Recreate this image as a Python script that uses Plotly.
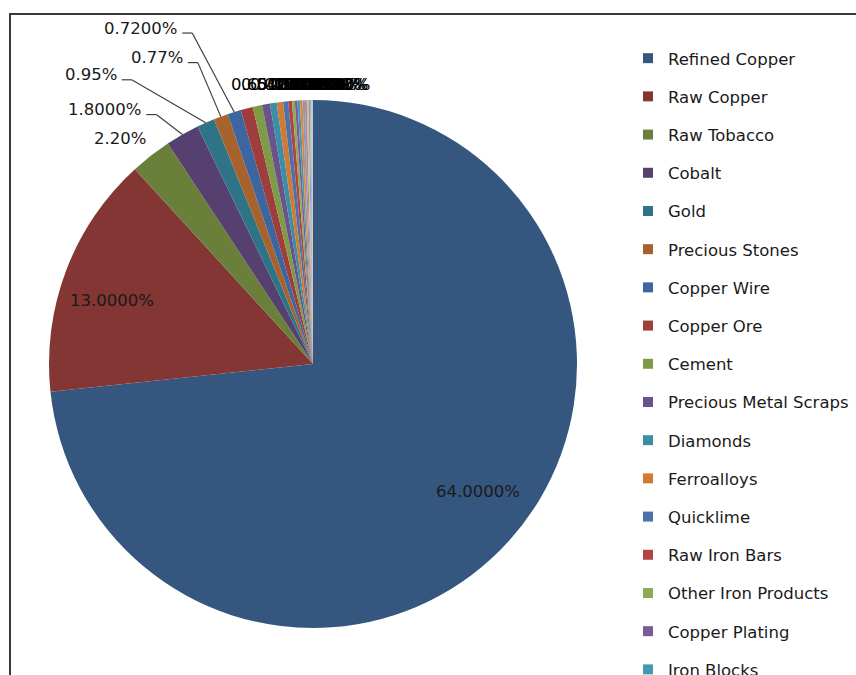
import math
import plotly.graph_objects as go

# ---------------- data ----------------
categories = [
    "Refined Copper", "Raw Copper", "Raw Tobacco", "Cobalt", "Gold",
    "Precious Stones", "Copper Wire", "Copper Ore", "Cement",
    "Precious Metal Scraps", "Diamonds", "Ferroalloys", "Quicklime",
    "Raw Iron Bars", "Other Iron Products", "Copper Plating", "Iron Blocks",
    "Raw Sugar", "Sulfuric Acid", "Electricity", "Raw Cotton", "Corn",
    "Manganese Ore", "Soybean Meal", "Wheat",
]
shares = [
    64.0, 13.0, 2.2, 1.8, 0.95,
    0.77, 0.72, 0.65, 0.5,
    0.42, 0.36, 0.34, 0.27,
    0.2, 0.15, 0.14, 0.13,
    0.14, 0.12, 0.1, 0.09, 0.08,
    0.07, 0.05, 0.04,
]
decimals = [
    4, 4, 2, 4, 2,
    2, 4, 2, 4,
    2, 4, 2, 4,
    2, 4, 2, 4,
    2, 4, 2, 4, 2,
    4, 2, 4,
]

# ---------------- style ----------------
colors = [
    "#34567f", "#833633", "#6a7f3a", "#56406f", "#2f7386",
    "#a8622b", "#3d66a0", "#9e3d3b", "#7f9b48",
    "#6a528b", "#3a8fa6", "#d17a33", "#4a73ad",
    "#b14442", "#8dab52", "#775d99", "#4499b2",
    "#e3863c", "#7d9bcb", "#cd7e7c", "#b2c88c", "#a593bf",
    "#7dbdd0", "#f5ae7d", "#a9bddc",
]
W, H = 856, 675
CX, CY, R = 313, 364, 264
FONT = "DejaVu Sans"
FS = 16.5
TXT = "#1a1a1a"

# label layout (pixel offsets from the slice's outer edge at mid-angle)
inside_idx = [0, 1]
inside_off = {0: (10, -12), 1: (-6, 10)}
inside_rf = 0.79
outside_idx = [2, 3, 4, 5, 6]
outside_off = {2: (0, -12), 3: (-36, -20), 4: (-84, -43), 5: (-33, -54), 6: (-52, -79)}
leader_idx = [3, 4, 5, 6]


def px(x):
    return x / W


def py(y):
    return 1 - y / H


total = sum(shares)
mids = []
cum = 0.0
for v in shares:
    mids.append((cum + v / 2) / total * 2 * math.pi)
    cum += v


def edge(i, rf=1.0):
    a = mids[i]
    return CX + rf * R * math.sin(a), CY - rf * R * math.cos(a)


def fmt(i):
    return f"{shares[i]:.{decimals[i]}f}%"


fig = go.Figure()
fig.add_trace(go.Pie(
    labels=categories, values=shares, sort=False, direction="clockwise",
    rotation=0, textinfo="none", showlegend=False,
    marker=dict(colors=colors, line=dict(width=0)),
    domain=dict(x=[px(CX - R), px(CX + R)], y=[py(CY + R), py(CY - R)]),
    hoverinfo="label+percent",
))

# legend entries
for c, col in zip(categories, colors):
    fig.add_trace(go.Scatter(
        x=[None], y=[None], mode="markers", name=c, legendgroup=c,
        marker=dict(symbol="square", size=10, color=col),
        hoverinfo="skip",
    ))

annotations = []
shapes = []

for i in inside_idx:
    x, y = edge(i, inside_rf)
    ox, oy = inside_off[i]
    annotations.append(dict(x=px(x + ox), y=py(y + oy), xref="paper", yref="paper",
                            xanchor="center", yanchor="middle",
                            text=fmt(i), showarrow=False,
                            font=dict(family=FONT, size=FS, color=TXT)))

for i in outside_idx:
    ex, ey = edge(i)
    dx, dy = outside_off[i]
    ax, ay = ex + dx, ey + dy
    annotations.append(dict(x=px(ax - 3), y=py(ay - 5), xref="paper", yref="paper",
                            xanchor="right", yanchor="middle",
                            text=fmt(i), showarrow=False,
                            font=dict(family=FONT, size=FS, color=TXT)))
    if i in leader_idx:
        shapes.append(dict(type="line", xref="paper", yref="paper",
                           x0=px(ax), y0=py(ay), x1=px(ax + 10), y1=py(ay),
                           line=dict(color="#404040", width=1.2)))
        shapes.append(dict(type="line", xref="paper", yref="paper",
                           x0=px(ax + 10), y0=py(ay), x1=px(ex), y1=py(ey),
                           line=dict(color="#404040", width=1.2)))

# crowded tiny-slice labels piled up above the pie
for i in range(max(outside_idx) + 1, len(shares)):
    ex, ey = edge(i)
    annotations.append(dict(x=px(ex - 18), y=py(84), xref="paper", yref="paper",
                            xanchor="left", yanchor="middle",
                            text=fmt(i), showarrow=False,
                            font=dict(family=FONT, size=FS, color="#000000")))

# chart area border
shapes.append(dict(type="rect", xref="paper", yref="paper",
                   x0=px(10), x1=1.2, y0=-0.2, y1=py(14),
                   line=dict(color="#3a3a3a", width=2)))

fig.update_layout(
    width=W, height=H,
    margin=dict(l=0, r=0, t=0, b=0, autoexpand=False),
    paper_bgcolor="white", plot_bgcolor="white",
    xaxis=dict(visible=False), yaxis=dict(visible=False),
    showlegend=True,
    legend=dict(x=px(628), y=1, xanchor="left", yanchor="top",
                traceorder="grouped", tracegroupgap=13.75,
                itemsizing="trace", maxheight=3000,
                title=dict(text=" ", font=dict(family=FONT, size=31.5)),
                font=dict(family=FONT, size=FS, color=TXT),
                bgcolor="rgba(0,0,0,0)"),
    annotations=annotations,
    shapes=shapes,
)

fig.write_html("out.html")
